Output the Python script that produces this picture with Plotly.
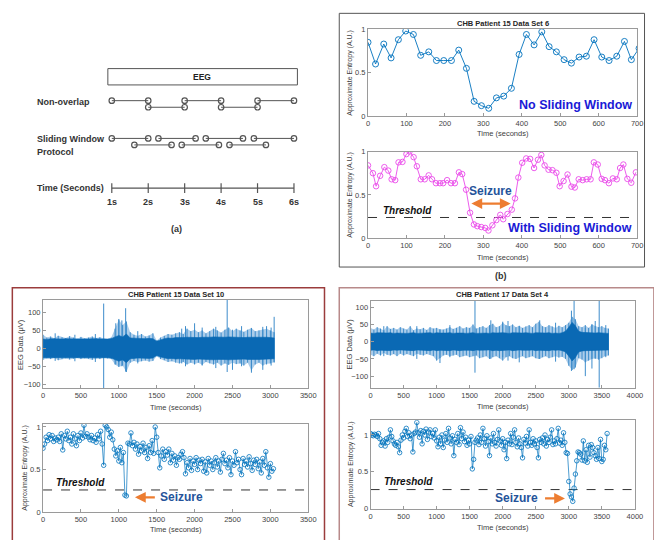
import plotly.graph_objects as go

# ---------------------------------------------------------------- data
# (a) windowing protocol (seconds)
nonoverlap_start = [1, 2, 3, 4, 5]
nonoverlap_end = [2, 3, 4, 5, 6]
sliding_start = [1.0, 1.62, 2.28, 2.92, 3.58, 4.23, 4.9]
sliding_end = [2.0, 2.64, 3.3, 3.94, 4.6, 5.23, 6.0]
time_ticks = [1, 2, 3, 4, 5, 6]
time_tick_labels = ["1s", "2s", "3s", "4s", "5s", "6s"]

# (b) CHB patient 15, data set 6 -- approximate entropy
ns_time = [0, 19.6, 41, 60, 79, 98, 118, 137, 158, 178, 197, 217, 236, 256, 276,
           295, 314, 334, 353, 373, 393, 412, 432, 452, 471, 490, 510, 529, 549,
           568, 588, 608, 627, 647, 667, 685, 705]
ns_apen = [0.85, 0.60, 0.83, 0.67, 0.88, 0.98, 0.94, 0.70, 0.74, 0.64, 0.64, 0.64,
           0.76, 0.55, 0.17, 0.12, 0.09, 0.21, 0.23, 0.32, 0.71, 0.94, 0.82, 0.97,
           0.80, 0.74, 0.65, 0.61, 0.68, 0.69, 0.88, 0.68, 0.64, 0.69, 0.86, 0.65,
           0.78]
sw_time = [0, 12.8, 21, 31.5, 42.5, 52.8, 61.4, 70.7, 79.4, 89.6, 99.9, 108, 118.6,
           127, 137.3, 147.5, 157.8, 166.5, 176.7, 187, 195.4, 205.7, 216, 226,
           236.4, 245, 255, 265.4, 275.6, 284.3, 294.6, 304.8, 313.3, 323.5, 333.8,
           344, 351.7, 362.7, 374, 382.4, 391, 401, 411.4, 421.6, 431.9, 442, 450.8,
           459.3, 469.5, 479.8, 490, 498.5, 508.7, 519, 529.2, 537.9, 548, 558.4,
           568.6, 578.9, 587.4, 597.6, 607.8, 616.4, 626.6, 636.8, 647, 655.7, 664.2,
           674.5, 684.7, 696.7]
sw_apen = [0.84, 0.75, 0.60, 0.72, 0.82, 0.78, 0.68, 0.67, 0.875, 0.88, 0.97, 1.0,
           0.935, 0.83, 0.68, 0.68, 0.725, 0.68, 0.635, 0.635, 0.635, 0.67, 0.635,
           0.635, 0.76, 0.74, 0.56, 0.295, 0.16, 0.14, 0.13, 0.12, 0.09, 0.15, 0.21,
           0.27, 0.22, 0.28, 0.33, 0.46, 0.70, 0.87, 0.92, 0.915, 0.81, 0.905, 0.96,
           0.84, 0.79, 0.785, 0.755, 0.60, 0.66, 0.735, 0.595, 0.585, 0.68, 0.67,
           0.68, 0.68, 0.875, 0.85, 0.685, 0.67, 0.635, 0.69, 0.68, 0.81, 0.85,
           0.685, 0.64, 0.76]
threshold_p15_6 = 0.24
seizure_p15_6 = [265, 371]

# CHB patient 15, data set 10 -- EEG envelope (uV), sampled every 50 s
eeg15_time = list(range(0, 3051, 50))
eeg15_peak_hi = [38, 30, 33, 28, 35, 31, 29, 34, 30, 27,
                 32, 28, 30, 33, 29, 31, 28, 26, 30, 55,
                 80, 65, 75, 45, 38, 35, 40, 33, 36, 42,
                 22, 30, 35, 40, 38, 42, 45, 40, 55, 48,
                 52, 45, 50, 42, 48, 55, 50, 44, 52, 58,
                 48, 55, 50, 46, 52, 57, 48, 50, 53, 55,
                 50, 45]
eeg15_peak_lo = [-32, -28, -30, -27, -33, -30, -28, -31, -29, -27,
                 -30, -28, -29, -32, -28, -30, -27, -28, -30, -45,
                 -52, -48, -66, -40, -35, -38, -36, -34, -37, -35,
                 -22, -30, -33, -38, -36, -40, -42, -38, -45, -40,
                 -44, -40, -46, -38, -42, -45, -40, -48, -42, -46,
                 -40, -44, -42, -48, -40, -62, -45, -40, -48, -43,
                 -42, -38]
eeg15_core = [26, 25, 27, 26, 25, 26, 27, 26, 25, 26,
              26, 25, 26, 27, 26, 25, 26, 26, 27, 32,
              36, 32, 40, 29, 28, 27, 28, 27, 28, 27,
              20, 24, 27, 29, 28, 30, 29, 30, 31, 30,
              31, 30, 31, 30, 31, 32, 31, 30, 31, 32,
              31, 32, 31, 30, 31, 32, 31, 31, 32, 31,
              30, 29]
eeg15_spike_time = [160, 420, 690, 800, 960, 1000, 1040, 1090, 1250, 1830, 1880,
                    2000, 2100, 2280, 2430, 2500, 2620, 2750, 2900, 2950, 3010, 3050]
eeg15_spike_hi = [42, 38, 40, 125, 70, 82, 78, 112, 48, 55, 62, 70, 58, 60, 136, 52,
                  62, 55, 60, 62, 58, 88]
eeg15_spike_lo = [-35, -36, -38, -112, -45, -48, -50, -65, -42, -42, -50, -45, -48,
                  -55, -66, -60, -50, -68, -60, -45, -48, -40]

# CHB patient 15, data set 10 -- approximate entropy, one window every 20 s
apen15_step = 20
apen15 = [0.75, 0.80, 0.88, 0.84, 0.91, 0.86, 0.90, 0.83, 0.87, 0.85,
          0.88, 0.83, 0.92, 0.73, 0.90, 0.86, 0.95, 0.84, 0.88, 0.80,
          0.92, 0.86, 0.78, 0.90, 0.84, 0.93, 0.87, 1.02, 0.89, 0.92,
          0.88, 0.85, 0.90, 0.84, 0.87, 0.82, 0.91, 0.86, 0.95, 0.80,
          0.55, 1.02, 1.00, 0.97, 0.88, 0.94, 0.85, 0.74, 0.66, 0.72,
          0.60, 0.76, 0.58, 0.70, 0.20, 0.19, 0.81, 0.80, 0.93, 0.78,
          0.82, 0.74, 0.80, 0.68, 0.77, 0.72, 0.81, 0.70, 0.76, 0.63,
          0.78, 0.70, 0.84, 0.69, 1.00, 0.88, 0.70, 0.52, 0.66, 0.74,
          0.62, 0.71, 0.67, 0.74, 0.58, 0.69, 0.61, 0.66, 0.55, 0.64,
          0.62, 0.68, 0.71, 0.64, 0.45, 0.58, 0.52, 0.63, 0.49, 0.60,
          0.56, 0.64, 0.50, 0.61, 0.57, 0.62, 0.48, 0.59, 0.46, 0.63,
          0.55, 0.60, 0.50, 0.58, 0.64, 0.53, 0.60, 0.47, 0.62, 0.69,
          0.57, 0.61, 0.52, 0.64, 0.44, 0.60, 0.55, 0.71, 0.58, 0.62,
          0.50, 0.44, 0.63, 0.56, 0.60, 0.53, 0.65, 0.57, 0.49, 0.61,
          0.56, 0.62, 0.51, 0.59, 0.46, 0.63, 0.55, 0.71, 0.52, 0.41,
          0.57, 0.48, 0.51]
threshold_p15_10 = 0.26

# CHB patient 17, data set 4 -- EEG envelope (uV), sampled every 50 s
eeg17_time = list(range(0, 3601, 50))
eeg17_peak_hi = [40, 35, 42, 38, 33, 45, 37, 40, 35, 42,
                 38, 35, 45, 33, 38, 36, 40, 34, 42, 38,
                 40, 36, 35, 38, 42, 37, 40, 45, 38, 42,
                 40, 50, 38, 42, 45, 40, 48, 52, 42, 45,
                 55, 48, 45, 50, 42, 46, 40, 44, 48, 42,
                 52, 58, 45, 42, 48, 44, 40, 46, 42, 48,
                 55, 72, 65, 45, 42, 48, 40, 50, 45, 42,
                 45, 40, 38]
eeg17_peak_lo = [-38, -42, -35, -40, -33, -38, -40, -36, -42, -35,
                 -40, -36, -38, -42, -35, -38, -40, -36, -38, -42,
                 -55, -48, -40, -38, -42, -40, -38, -45, -42, -40,
                 -45, -42, -40, -48, -45, -42, -50, -45, -42, -48,
                 -55, -45, -42, -48, -50, -45, -42, -48, -45, -42,
                 -48, -50, -45, -42, -48, -45, -42, -46, -44, -50,
                 -70, -82, -75, -48, -52, -60, -55, -50, -48, -52,
                 -48, -42, -40]
eeg17_core = [25, 24, 26, 25, 24, 25, 26, 24, 25, 24,
              25, 24, 25, 26, 24, 25, 24, 25, 26, 24,
              26, 25, 24, 25, 26, 24, 25, 26, 25, 24,
              25, 26, 24, 25, 26, 25, 24, 26, 25, 26,
              26, 25, 24, 26, 25, 24, 25, 26, 25, 24,
              26, 25, 24, 25, 26, 24, 25, 24, 26, 30,
              42, 56, 46, 30, 27, 26, 25, 26, 25, 26,
              25, 24, 24]
eeg17_spike_time = [200, 700, 1050, 1200, 1580, 1820, 2000, 2080, 2250, 2560, 2800,
                    3040, 3080, 3250, 3350, 3400, 3460, 3560]
eeg17_spike_hi = [45, 45, 35, 48, 125, 62, 58, 60, 45, 62, 55, 90, 125, 40, 50, 60,
                  125, 48]
eeg17_spike_lo = [-42, -50, -62, -45, -90, -50, -45, -55, -60, -50, -58, -85, -80,
                  -100, -78, -50, -140, -45]

# CHB patient 17, data set 4 -- approximate entropy, one window every 20 s
apen17_step = 20
apen17 = [1.02, 1.00, 0.99, 1.01, 1.00, 0.98, 1.02, 0.95, 0.86, 0.90,
          0.92, 0.85, 0.95, 0.90, 0.97, 1.07, 0.98, 0.92, 0.88, 0.86,
          0.90, 0.84, 0.76, 0.93, 1.00, 0.96, 1.05, 1.09, 0.98, 1.03,
          0.95, 1.00, 0.77, 1.02, 1.04, 1.17, 1.03, 0.97, 1.06, 0.88,
          1.05, 1.00, 1.08, 0.94, 1.04, 1.07, 0.98, 1.02, 0.96, 1.07,
          0.92, 0.84, 0.97, 0.88, 1.00, 0.83, 0.93, 1.02, 0.90, 1.09,
          0.96, 0.88, 0.99, 0.72, 0.94, 0.90, 1.02, 0.87, 1.10, 0.95,
          1.04, 0.91, 0.97, 0.86, 0.93, 0.88, 0.98, 0.54, 0.67, 0.90,
          0.93, 0.96, 0.87, 1.00, 0.90, 1.09, 0.95, 0.85, 0.99, 0.91,
          0.72, 0.96, 0.88, 1.02, 0.90, 0.85, 0.94, 1.07, 0.92, 0.86,
          0.95, 0.80, 0.90, 0.68, 0.93, 0.88, 1.02, 0.87, 0.97, 1.07,
          0.90, 0.84, 0.96, 0.88, 0.83, 0.69, 0.94, 0.89, 0.98, 0.85,
          1.07, 0.90, 0.86, 0.95, 0.88, 0.92, 0.83, 0.69, 0.94, 0.90,
          0.96, 0.88, 1.00, 0.85, 0.94, 0.90, 0.97, 1.07, 0.87, 0.92,
          0.88, 0.95, 1.09, 0.89, 0.93, 0.86, 1.03, 0.90, 0.76, 0.75,
          0.37, 0.20, 0.16, 0.10, 0.28, 0.47, 0.65, 0.77, 0.76, 0.74,
          0.66, 0.92, 0.65, 0.80, 0.63, 0.86, 0.70, 0.87, 0.83, 0.76,
          0.72, 0.67, 0.83, 0.68, 0.94, 0.64, 0.67, 0.86, 0.80, 1.02]
threshold_p17_4 = 0.26

# ---------------------------------------------------------------- styling
W, H = 654, 540
FONT = "Liberation Sans, Arial, Helvetica, sans-serif"
MBLUE = "#0072BD"
EEG_CORE = "#0a69b4"
EEG_EDGE = "#3d8ccb"
EEG_HAZE = "rgba(70,145,208,0.45)"
MAGENTA = "#EA4BEA"
ORANGE = "#ED7D31"
SEIZ_BLUE = "#24539a"
TXT_BLUE = "#1a1ad6"
AXC = "#9a9a9a"
TICKC = "#444444"


def fx(p):
    return p / W


def fy(p):
    return 1 - p / H


fig = go.Figure()
axes = {}


def add_axes(n, left, right, top, bottom, xrange, yrange, xtick, ytick, yticktext=None):
    common = dict(showline=True, mirror=True, linecolor=AXC, linewidth=1,
                  ticks="inside", ticklen=3, tickcolor=AXC, tickwidth=1,
                  tickfont=dict(size=7.5, color=TICKC, family=FONT),
                  showgrid=False, zeroline=False, fixedrange=True)
    sfx = "" if n == 1 else str(n)
    axes["xaxis" + sfx] = dict(common, domain=[fx(left), fx(right)], range=xrange,
                               tickvals=xtick, anchor="y" + sfx)
    yd = dict(common, domain=[fy(bottom), fy(top)], range=yrange, tickvals=ytick,
              anchor="x" + sfx)
    if yticktext is not None:
        yd["ticktext"] = yticktext
    axes["yaxis" + sfx] = yd


apen_ticks = [0, 0.5, 1]
apen_ticktext = ["0", "0.5", "1"]
add_axes(1, 371.7, 645, 25.7, 114, [0, 700], [0, 1], list(range(0, 701, 100)),
         apen_ticks, apen_ticktext)
add_axes(2, 371.7, 645, 150, 238.3, [0, 700], [0, 1], list(range(0, 701, 100)),
         apen_ticks, apen_ticktext)
add_axes(3, 41.7, 311, 301, 391, [0, 3500], [-112, 135], list(range(0, 3501, 500)),
         [-100, -50, 0, 50, 100])
add_axes(4, 41.7, 311, 426.7, 516.7, [0, 3500], [0, 1.04], list(range(0, 3501, 500)),
         apen_ticks, apen_ticktext)
add_axes(5, 374.3, 642.7, 301.7, 390, [0, 4000], [-133, 119],
         list(range(0, 4001, 500)), [-100, -50, 0, 50, 100])
add_axes(6, 374.3, 642.7, 423.3, 513.3, [0, 4000], [0, 1.2],
         list(range(0, 4001, 500)), apen_ticks, apen_ticktext)

# hidden axes for the protocol sketch: x in seconds (37 px per second)
px_per_s = 37.0
axes["xaxis7"] = dict(domain=[fx(100), fx(310)],
                      range=[1 - 11.5 / px_per_s, 6 + 13.5 / px_per_s],
                      visible=False, fixedrange=True, anchor="y7")
axes["yaxis7"] = dict(domain=[fy(240), fy(60)], range=[240, 60], visible=False,
                      fixedrange=True, anchor="x7")

# ---------------------------------------------------------------- (a) protocol sketch
ROW_NO = (98.3, 105.0)
ROW_SW = (136.7, 143.3)
ROW_T = 187.3
GREY = "#555555"


def window_trace(starts, ends, rows):
    xs, ys = [], []
    for k, (s, e) in enumerate(zip(starts, ends)):
        r = rows[k % 2]
        xs += [s, e, None]
        ys += [r, r, None]
    return go.Scatter(x=xs, y=ys, xaxis="x7", yaxis="y7", mode="lines+markers",
                      line=dict(color=GREY, width=1),
                      marker=dict(symbol="circle-open", size=5.5,
                                  line=dict(color=GREY, width=1.2), color=GREY),
                      hoverinfo="skip", showlegend=False)


fig.add_trace(window_trace(nonoverlap_start, nonoverlap_end, ROW_NO))
fig.add_trace(window_trace(sliding_start, sliding_end, ROW_SW))
fig.add_trace(go.Scatter(x=[time_ticks[0], time_ticks[-1]], y=[ROW_T, ROW_T],
                         xaxis="x7", yaxis="y7", mode="lines",
                         line=dict(color=GREY, width=1.2), showlegend=False,
                         hoverinfo="skip"))
fig.add_trace(go.Scatter(x=time_ticks, y=[ROW_T] * len(time_ticks), xaxis="x7",
                         yaxis="y7", mode="markers",
                         marker=dict(symbol="line-ns-open", size=7, color=GREY,
                                     line=dict(color=GREY, width=1.2)),
                         showlegend=False, hoverinfo="skip"))
for t, lab in zip(time_ticks, time_tick_labels):
    fig.add_annotation(x=t, y=201.7, xref="x7", yref="y7", text="<b>%s</b>" % lab,
                       showarrow=False, font=dict(size=9, color="#333", family=FONT))

# ---------------------------------------------------------------- (b) entropy traces
fig.add_trace(go.Scatter(x=ns_time, y=ns_apen, xaxis="x", yaxis="y",
                         mode="lines+markers", line=dict(color=MBLUE, width=0.9),
                         marker=dict(symbol="circle-open", size=6,
                                     line=dict(color=MBLUE, width=0.9)),
                         showlegend=False, hoverinfo="skip"))
fig.add_trace(go.Scatter(x=[0, 700], y=[threshold_p15_6] * 2, xaxis="x2", yaxis="y2",
                         mode="lines", line=dict(color="#333", width=1, dash="dash"),
                         showlegend=False, hoverinfo="skip"))
fig.add_trace(go.Scatter(x=sw_time, y=sw_apen, xaxis="x2", yaxis="y2",
                         mode="lines+markers", line=dict(color=MAGENTA, width=0.9),
                         marker=dict(symbol="circle-open", size=5.5,
                                     line=dict(color=MAGENTA, width=0.9)),
                         showlegend=False, hoverinfo="skip"))


# ---------------------------------------------------------------- EEG panels
def vbars(ts, hi, lo):
    xs, ys = [], []
    for a, b, c in zip(ts, hi, lo):
        xs += [a, a, None]
        ys += [c, b, None]
    return xs, ys


def eeg_traces(t, hi, lo, core, st, sh, sl, xa, ya):
    out = []
    # faint envelope of the fast activity
    out.append(go.Scatter(x=t + t[::-1], y=hi + lo[::-1], xaxis=xa, yaxis=ya,
                          fill="toself", fillcolor=EEG_HAZE, mode="lines",
                          line=dict(width=0), showlegend=False, hoverinfo="skip"))
    # excursions at each envelope sample, drawn as thin vertical strokes
    xs, ys = vbars(t, hi, lo)
    out.append(go.Scatter(x=xs, y=ys, xaxis=xa, yaxis=ya, mode="lines",
                          line=dict(color=EEG_EDGE, width=1),
                          showlegend=False, hoverinfo="skip"))
    # isolated large spikes
    xs, ys = vbars(st, sh, sl)
    out.append(go.Scatter(x=xs, y=ys, xaxis=xa, yaxis=ya, mode="lines",
                          line=dict(color=EEG_EDGE, width=1),
                          showlegend=False, hoverinfo="skip"))
    # dense background activity
    chi = list(core)
    clo = [-c for c in core]
    out.append(go.Scatter(x=t + t[::-1], y=chi + clo[::-1], xaxis=xa, yaxis=ya,
                          fill="toself", fillcolor=EEG_CORE, mode="lines",
                          line=dict(color=EEG_CORE, width=0.6),
                          showlegend=False, hoverinfo="skip"))
    return out


for tr in eeg_traces(eeg15_time, eeg15_peak_hi, eeg15_peak_lo, eeg15_core,
                     eeg15_spike_time, eeg15_spike_hi, eeg15_spike_lo, "x3", "y3"):
    fig.add_trace(tr)
for tr in eeg_traces(eeg17_time, eeg17_peak_hi, eeg17_peak_lo, eeg17_core,
                     eeg17_spike_time, eeg17_spike_hi, eeg17_spike_lo, "x5", "y5"):
    fig.add_trace(tr)

apen15_time = [i * apen15_step for i in range(len(apen15))]
apen17_time = [i * apen17_step for i in range(len(apen17))]
for xa, ya, tt, vv, th, xmax in [("x4", "y4", apen15_time, apen15, threshold_p15_10, 3500),
                                 ("x6", "y6", apen17_time, apen17, threshold_p17_4, 4000)]:
    fig.add_trace(go.Scatter(x=[0, xmax], y=[th, th], xaxis=xa, yaxis=ya, mode="lines",
                             line=dict(color="#333", width=1, dash="dash"),
                             showlegend=False, hoverinfo="skip"))
    fig.add_trace(go.Scatter(x=tt, y=vv, xaxis=xa, yaxis=ya, mode="lines+markers",
                             line=dict(color=MBLUE, width=0.7),
                             marker=dict(symbol="circle-open", size=4.5,
                                         line=dict(color=MBLUE, width=0.8)),
                             showlegend=False, hoverinfo="skip"))


# ---------------------------------------------------------------- text
def label(text, x, y, size=7.5, color="#404040", bold=False, italic=False, angle=0,
          xanchor="center"):
    if bold:
        text = "<b>%s</b>" % text
    if italic:
        text = "<i>%s</i>" % text
    fig.add_annotation(text=text, x=fx(x), y=fy(y), xref="paper", yref="paper",
                       showarrow=False, xanchor=xanchor, yanchor="middle",
                       textangle=angle, borderpad=0,
                       font=dict(size=size, color=color, family=FONT))


# (a)
label("EEG", 203.5, 74, size=8.5, color="#222", bold=True)
label("Non-overlap", 35, 100, size=9, color="#333", bold=True, xanchor="left")
label("Sliding Window", 35, 137, size=9, color="#333", bold=True, xanchor="left")
label("Protocol", 35, 150, size=9, color="#333", bold=True, xanchor="left")
label("Time (Seconds)", 35, 187, size=9, color="#333", bold=True, xanchor="left")
label("(a)", 177.3, 228.5, size=9, color="#333", bold=True)
label("(b)", 506.7, 276.7, size=9, color="#333", bold=True)

# titles
label("CHB Patient 15 Data Set 6", 508.3, 20, size=7.5, color="#262626", bold=True)
label("CHB Patient 15 Data Set 10", 176.3, 295.7, size=7.5, color="#262626", bold=True)
label("CHB Patient 17 Data Set 4", 508.5, 295.7, size=7.5, color="#262626", bold=True)

# axis titles
for xc, yc in [(508.3, 131.7), (508.3, 257.7), (176.3, 410.7), (176.3, 534.3),
               (508.5, 409), (508.5, 532.3)]:
    label("Time (seconds)", xc, yc, size=7.5)
label("Approximate Entropy (A.U.)", 353.3, 70, size=7, angle=-90)
label("Approximate Entropy (A.U.)", 353.3, 194, size=7, angle=-90)
label("EEG Data (\u03bcV)", 19, 346, size=7.5, angle=-90)
label("Approximate Entropy (A.U.)", 23.3, 471.7, size=7, angle=-90)
label("EEG Data (\u03bcV)", 352.7, 346, size=7.5, angle=-90)
label("Approximate Entropy (A.U.)", 355, 468.3, size=7, angle=-90)

# callouts
label("No Sliding Window", 582.5, 102.7, size=12.5, color=TXT_BLUE, bold=True)
label("With Sliding Window", 576.5, 227.7, size=12.5, color=TXT_BLUE, bold=True)
label("Seizure", 496.5, 190, size=12, color=SEIZ_BLUE, bold=True)
label("Threshold", 411.5, 210, size=10, color="#111", bold=True, italic=True)
label("Seizure", 182.5, 501.7, size=12, color=SEIZ_BLUE, bold=True)
label("Threshold", 80, 486.7, size=10, color="#111", bold=True, italic=True)
label("Seizure", 522.5, 502.7, size=12, color=SEIZ_BLUE, bold=True)
label("Threshold", 413, 486, size=10, color="#111", bold=True, italic=True)

# orange arrows
arrow = dict(showarrow=True, arrowhead=2, arrowsize=0.9, arrowwidth=2.4,
             arrowcolor=ORANGE, text="")
fig.add_annotation(x=seizure_p15_6[1], y=0.40, ax=seizure_p15_6[0], ay=0.40,
                   xref="x2", yref="y2", axref="x2", ayref="y2",
                   arrowside="end+start", **arrow)
fig.add_annotation(x=1213, y=0.173, ax=1495, ay=0.173, xref="x4", yref="y4",
                   axref="x4", ayref="y4", **arrow)
fig.add_annotation(x=2942, y=0.14, ax=2618, ay=0.14, xref="x6", yref="y6",
                   axref="x6", ayref="y6", **arrow)

# ---------------------------------------------------------------- frames
shapes = [
    dict(type="rect", xref="paper", yref="paper", x0=fx(107.5), x1=fx(300),
         y0=fy(82.3), y1=fy(65.7), line=dict(color="#555", width=1)),
    dict(type="rect", xref="paper", yref="paper", x0=fx(342.5), x1=fx(652.5),
         y0=fy(267.5), y1=fy(9.5), line=dict(color="#555", width=1)),
    dict(type="rect", xref="paper", yref="paper", x0=fx(10.5), x1=fx(327.5),
         y0=fy(548), y1=fy(288.5), line=dict(color="#9b3c3c", width=1.5)),
    dict(type="rect", xref="paper", yref="paper", x0=fx(342.5), x1=fx(662),
         y0=fy(548), y1=fy(288.5), line=dict(color="#b88a8a", width=1.5)),
]

fig.update_layout(width=W, height=H, margin=dict(l=0, r=0, t=0, b=0),
                  paper_bgcolor="white", plot_bgcolor="white", showlegend=False,
                  shapes=shapes, **axes)

fig.write_html("out.html")
